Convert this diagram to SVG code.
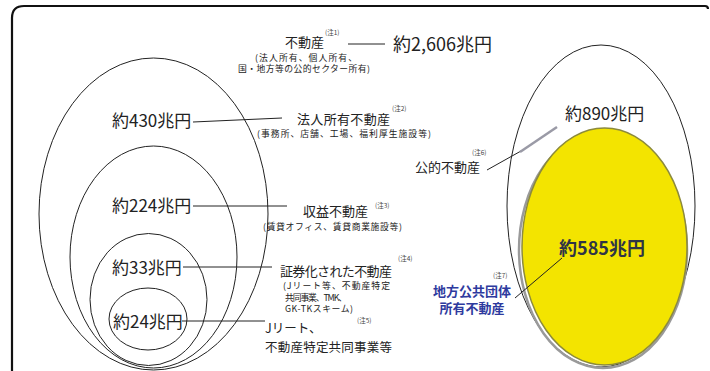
<svg xmlns="http://www.w3.org/2000/svg" width="710" height="371" viewBox="0 0 710 371">
<style>
text{font-family:"Noto Sans CJK JP","Noto Sans",sans-serif;fill:#222}
.big{font-size:17px}
.mid{font-size:13px}
.sm{font-size:8.8px}
.note{font-size:6.5px;fill:#444}
.ell{fill:none;stroke:#222;stroke-width:1}
.ln{stroke:#222;stroke-width:1;fill:none}
.blue{font-size:13px;font-weight:bold;fill:#2e3a9e}
</style>
<rect width="710" height="371" fill="#fff"/>
<path d="M12,371 L12,18 Q12,6 24,6 L705,6 Q708,6 708,9" fill="none" stroke="#111" stroke-width="2.2"/>

<g id="ellipses-left">
<ellipse id="e-all" class="ell" cx="153.5" cy="214" rx="114.5" ry="156"/>
<ellipse id="e-corp" class="ell" cx="153.5" cy="257" rx="83.5" ry="111"/>
<ellipse id="e-income" class="ell" cx="148.5" cy="299.5" rx="58.5" ry="66"/>
<ellipse id="e-sec" class="ell" cx="148" cy="319" rx="39" ry="31"/>
</g>

<g id="ellipses-right">
<ellipse id="e-public" class="ell" cx="601" cy="206" rx="94" ry="161"/>
<ellipse cx="603" cy="250" rx="84" ry="118" fill="none" stroke="#9a9a9a" stroke-width="2.5"/>
<ellipse id="e-local" cx="604.5" cy="246.5" rx="82.5" ry="118.5" fill="#f3e400" stroke="#8c8a3c" stroke-width="1.5"/>
</g>

<g id="connectors">
<line class="ln" x1="348" y1="44" x2="385" y2="44" stroke-width="1.3"/>
<line class="ln" x1="193" y1="122" x2="282" y2="118"/>
<line class="ln" x1="193" y1="206" x2="287" y2="206"/>
<line class="ln" x1="183" y1="267" x2="272" y2="267"/>
<line class="ln" x1="182" y1="321" x2="265" y2="321"/>
<line class="ln" x1="487" y1="170" x2="521" y2="151"/>
<line x1="520" y1="152" x2="557" y2="127" stroke="#9a9aa6" stroke-width="2.5"/>
<line class="ln" x1="562" y1="258" x2="515" y2="298" stroke="#444"/>
</g>

<g id="node-total">
<text class="mid" x="285" y="47">不動産</text>
<text class="note" x="325" y="35">(注1)</text>
<text x="393" y="51" style="font-size:18px">約2,606兆円</text>
<text class="sm" x="255" y="60.5" textLength="102">(法人所有、個人所有、</text>
<text class="sm" x="238" y="72" textLength="132">国・地方等の公的セクター所有)</text>
</g>

<g id="node-corp">
<text class="big" x="112" y="127">約430兆円</text>
<text class="mid" x="297" y="124" textLength="93">法人所有不動産</text>
<text class="note" x="392" y="111">(注2)</text>
<text class="sm" x="257" y="136.5" textLength="174">(事務所、店舗、工場、福利厚生施設等)</text>
</g>

<g id="node-income">
<text class="big" x="112" y="212">約224兆円</text>
<text class="mid" x="303" y="216">収益不動産</text>
<text class="note" x="375" y="208">(注3)</text>
<text class="sm" x="263" y="229.5" textLength="139">(賃貸オフィス、賃貸商業施設等)</text>
</g>

<g id="node-sec">
<text class="big" x="112" y="274">約33兆円</text>
<text class="mid" x="280" y="276" textLength="112">証券化された不動産</text>
<text class="note" x="398" y="261">(注4)</text>
<text class="sm" x="283" y="289" textLength="107">(Jリート等、不動産特定</text>
<text class="sm" x="285" y="300.5" textLength="62">共同事業、TMK、</text>
<text class="sm" x="285" y="312" textLength="68">GK-TKスキーム)</text>
</g>

<g id="node-reit">
<text class="mid" x="265" y="333" style="font-size:12.5px">Jリート、</text>
<text class="big" x="113" y="328">約24兆円</text>
<text class="note" x="357" y="323">(注5)</text>
<text class="mid" x="265" y="351.5" textLength="127" style="font-size:12.5px">不動産特定共同事業等</text>
</g>

<g id="node-public">
<text class="big" x="565" y="120">約890兆円</text>
<text class="mid" x="415" y="172">公的不動産</text>
<text class="note" x="472" y="154.5">(注6)</text>
</g>

<g id="node-local">
<text x="602" y="255" text-anchor="middle" style="font-size:18px;font-weight:bold;fill:#2f3446">約585兆円</text>
<text class="note" x="493" y="278">(注7)</text>
<text class="blue" x="472" y="295.5" text-anchor="middle">地方公共団体</text>
<text class="blue" x="472" y="313" text-anchor="middle">所有不動産</text>
</g>
</svg>
